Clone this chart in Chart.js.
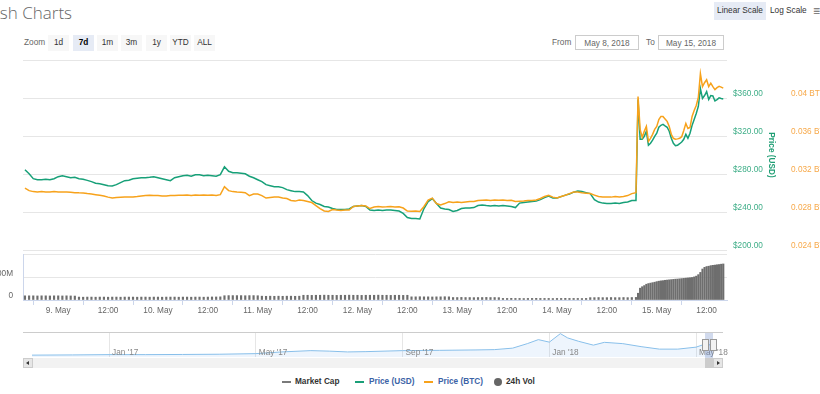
<!DOCTYPE html>
<html><head><meta charset="utf-8">
<script src="https://cdn.jsdelivr.net/npm/chart.js@4.4.1/dist/chart.umd.min.js"></script>
<style>
html,body{margin:0;padding:0;width:820px;height:394px;overflow:hidden;background:#fff;font-family:"Liberation Sans",Arial,sans-serif;}
canvas{position:absolute;left:0;}
.a{position:absolute;white-space:nowrap;}
.btn{position:absolute;top:35px;height:16px;width:21px;background:#f7f7f7;color:#333;font-size:8.25px;line-height:16px;text-align:center;}
.inp{position:absolute;top:35px;height:15px;border:1px solid #ccc;color:#666;font-size:8.25px;line-height:15px;text-align:center;box-sizing:border-box;}
.lg{position:absolute;top:377px;font-size:8.25px;font-weight:bold;line-height:10px;white-space:nowrap;}
</style></head>
<body>
<div class="a" style="right:748px;top:1px;font-family:'Open Sans',sans-serif;font-weight:300;font-size:17px;color:#666;">Zcash Charts</div>
<div class="a" style="left:714px;top:2px;width:52px;height:18px;background:#e6ebf5;color:#333;font-size:8.25px;line-height:18px;text-align:center;">Linear Scale</div>
<div class="a" style="left:770px;top:2px;height:18px;color:#333;font-size:8.25px;line-height:18px;">Log Scale</div>
<div class="a" style="left:813px;top:2px;height:18px;color:#666;font-size:12px;line-height:18px;">≡</div>
<div class="a" style="left:24px;top:35px;height:16px;color:#666;font-size:8.25px;line-height:16px;">Zoom</div>
<div class="btn" style="left:48px">1d</div>
<div class="btn" style="left:73px;background:#e6ebf5;color:#000;font-weight:bold">7d</div>
<div class="btn" style="left:97px">1m</div>
<div class="btn" style="left:121px">3m</div>
<div class="btn" style="left:146px">1y</div>
<div class="btn" style="left:170px">YTD</div>
<div class="btn" style="left:194px">ALL</div>
<div class="a" style="left:552px;top:35px;height:16px;color:#666;font-size:8.25px;line-height:16px;">From</div>
<div class="inp" style="left:575px;width:64px;">May 8, 2018</div>
<div class="a" style="left:646px;top:35px;height:16px;color:#666;font-size:8.25px;line-height:16px;">To</div>
<div class="inp" style="left:658px;width:66px;">May 15, 2018</div>

<canvas id="main" width="860" height="230" style="top:40px"></canvas>
<canvas id="vol" width="860" height="80" style="top:240px"></canvas>
<canvas id="nav" width="860" height="50" style="top:320px"></canvas>

<div class="a" style="left:23px;top:332px;width:700px;height:1px;background:#ccc"></div>
<div id="mask" class="a" style="top:333px;height:25px;background:rgba(102,133,194,0.3)"></div>
<div id="h0" class="a" style="top:339px;width:5px;height:10px;background:#f2f2f2;border:1px solid #999"></div>
<div id="h1" class="a" style="top:339px;width:5px;height:10px;background:#f2f2f2;border:1px solid #999"></div>
<div class="a" style="left:23px;top:358px;width:700px;height:10px;background:#f2f2f2"></div>
<div class="a" style="left:23px;top:358px;width:10px;height:10px;background:#e6e6e6;border:1px solid #ccc;box-sizing:border-box"></div>
<div class="a" style="left:26px;top:360.5px;width:0;height:0;border-right:3px solid #333;border-top:2.5px solid transparent;border-bottom:2.5px solid transparent"></div>
<div class="a" style="left:713px;top:358px;width:10px;height:10px;background:#e6e6e6;border:1px solid #ccc;box-sizing:border-box"></div>
<div class="a" style="left:717px;top:360.5px;width:0;height:0;border-left:3px solid #333;border-top:2.5px solid transparent;border-bottom:2.5px solid transparent"></div>
<div id="thumb" class="a" style="top:358px;height:10px;background:#ccc"></div>

<div class="a" style="left:282px;top:381px;width:9px;height:2px;background:#7a7a7a"></div>
<div class="lg" style="left:295px;color:#333">Market Cap</div>
<div class="a" style="left:355px;top:381px;width:9px;height:2px;background:#1a9f78"></div>
<div class="lg" style="left:369px;color:#3b63a6">Price (USD)</div>
<div class="a" style="left:424px;top:381px;width:9px;height:2px;background:#f7a21b"></div>
<div class="lg" style="left:438px;color:#3b63a6">Price (BTC)</div>
<div class="a" style="left:494px;top:378px;width:8px;height:8px;border-radius:50%;background:#666"></div>
<div class="lg" style="left:506px;color:#333">24h Vol</div>

<script>
// hours since 9 May 2018 00:00
const hours = [-8,-7,-6,-5,-4,-3,-2,-1,
0,1,2,3,4,5,6,7,8,9,10,11,12,13,14,15,16,17,18,19,20,21,22,23,24,25,26,27,28,29,30,31,32,33,34,35,36,37,38,39,
40,41,42,43,44,45,46,47,48,49,50,51,52,53,54,55,56,57,58,59,60,61,62,63,64,65,66,67,68,69,70,71,72,73,74,75,76,77,78,79,
80,81,82,83,84,85,86,87,88,89,90,91,92,93,94,95,96,97,98,99,100,101,102,103,104,105,106,107,108,109,110,111,112,113,114,115,116,117,118,119,
120,121,122,123,124,125,126,127,128,129,130,131,132,133,134,135,136,137,138,139,
139.5,140,140.5,141,141.5,142,142.5,143,143.5,144,144.5,145,145.5,146,146.5,147,147.5,148,148.5,149,
149.5,150,150.5,151,151.5,152,152.5,153,153.5,154,154.5,155,155.5,156,156.5,157,157.5,158,158.5,159,159.5,160];

const priceUSD = [284.5,280.3,275.1,274.0,274.0,274.5,274.0,275.0,
277.2,278.2,277.2,276.1,276.6,275.0,274.5,273.3,272.0,270.4,
269.8,268.8,267.7,267.4,268.8,270.9,273.0,273.5,275.0,275.6,
276.1,276.1,276.6,277.2,276.1,275.0,274.0,273.0,276.1,277.2,
278.2,278.7,277.7,279.3,279.3,278.2,278.7,278.2,277.7,279.3,
287.6,282.9,281.3,281.3,280.8,280.3,277.7,276.1,274.0,272.0,
268.8,267.7,266.7,266.7,265.7,263.6,262.5,261.5,261.5,261.2,
257.3,252.1,249.4,247.9,245.8,245.3,243.7,242.7,242.7,242.7,
243.2,245.8,246.3,246.8,245.8,242.1,241.6,242.1,241.6,242.1,
242.1,241.6,241.1,238.5,234.3,233.2,233.2,232.7,243.7,251.0,
254.2,248.9,244.2,243.2,242.7,240.6,241.6,243.7,244.2,244.2,
244.7,246.8,247.4,246.8,246.3,246.8,246.3,246.8,246.3,245.8,
244.7,249.4,250.0,250.5,251.0,251.5,253.1,255.2,256.8,254.7,
254.7,256.2,257.8,258.9,260.9,262.0,261.5,260.4,259.4,253.1,
250.5,249.4,248.9,248.9,249.4,248.9,250.0,250.5,252.1,252.1,
358.4,316.6,316.6,319.7,325.0,310.3,312.4,315.6,319.7,322.9,
329.2,331.3,332.3,330.7,329.2,325.0,317.7,312.4,309.8,310.3,
311.9,313.7,316.6,321.8,317.6,322.9,331.2,337.5,343.8,351.1,
369.9,359.5,362.6,366.8,358.4,362.6,362.1,356.9,358.4,360.2,
359.5,359.0];

const priceBTC = [0.03051,0.03025,0.03015,0.03012,0.03015,0.0301,0.03012,0.03015,
0.0301,0.03012,0.0301,0.03007,0.03004,0.03002,0.03001,0.02994,0.02989,0.02983,
0.02976,0.02968,0.02957,0.02949,0.02952,0.02955,0.02957,0.02959,0.02959,0.02963,
0.02968,0.02973,0.02976,0.02973,0.02973,0.0297,0.02968,0.02973,0.02975,0.02976,
0.02976,0.02978,0.02975,0.02978,0.02976,0.02978,0.02976,0.02978,0.02975,0.02983,
0.03067,0.03025,0.03015,0.0301,0.03007,0.03004,0.02973,0.02989,0.02989,0.02973,
0.02947,0.02952,0.02957,0.02957,0.02947,0.02942,0.02921,0.02915,0.02926,0.02921,
0.0291,0.029,0.02868,0.02837,0.02811,0.02806,0.02827,0.02821,0.02816,0.02821,
0.02821,0.02858,0.02863,0.02868,0.02863,0.02837,0.02853,0.02858,0.02853,0.02855,
0.02858,0.02853,0.02855,0.02842,0.02811,0.02809,0.02811,0.02806,0.02858,0.02926,
0.02947,0.02889,0.02874,0.02889,0.02907,0.029,0.02905,0.029,0.02905,0.0291,
0.0291,0.02921,0.02924,0.02926,0.02921,0.02926,0.02924,0.02926,0.02921,0.02924,
0.0291,0.02913,0.02915,0.02921,0.02921,0.02926,0.02942,0.02963,0.02976,0.02957,
0.02949,0.02963,0.02976,0.02994,0.0301,0.0301,0.03004,0.02999,0.02994,0.02978,
0.02963,0.02959,0.02959,0.02957,0.02963,0.02959,0.02963,0.02973,0.02994,0.03004,
0.04015,0.0367,0.03586,0.03649,0.03701,0.03544,0.03576,0.03618,0.0367,0.03701,
0.03774,0.03806,0.03806,0.0378,0.03754,0.03701,0.03618,0.03576,0.03566,0.0357,
0.03576,0.03593,0.03659,0.03733,0.0368,0.03691,0.03806,0.03869,0.03921,0.04005,
0.04256,0.0412,0.04161,0.04193,0.0412,0.04156,0.0412,0.04088,0.04109,0.04123,
0.04114,0.04104];

// 24h volume, millions USD
const volume24h = [37,37,37,36,37,37,36,37,37,36,37,36,35,
26,25,26,26,25,26,26,25,26,26,25,26,26,26,25,26,26,25,26,26,25,26,26,26,25,26,26,25,26,26,25,26,27,27,28,
38,39,39,39,39,38,39,39,38,
34,33,34,33,34,33,34,34,33,34,
42,42,41,42,42,43,42,42,41,42,42,43,42,42,41,42,42,42,43,42,42,41,42,42,41,42,
28,28,29,28,28,27,28,28,29,28,
22,22,23,22,22,21,22,22,23,22,22,21,
14,14,15,14,14,13,14,14,15,14,14,14,13,14,14,15,14,14,14,13,14,
21,21,22,21,21,22,21,21,22,21,22,23,
60,105,118,128,140,146,150,154,158,163,167,170,172,175,177,179,181,183,185,186,
188,190,192,194,196,198,200,205,212,225,245,275,290,297,300,305,308,310,313,315,318,320];

const xTickHours = [0,12,24,36,48,60,72,84,96,108,120,132,144,156];
const usdTicks = [200,240,280,320,360,400];
const btcTicks = [0.024,0.028,0.032,0.036,0.04,0.044];
const volTicks = [0,200,400];

// navigator: months since Jan 2017, market cap (M USD)
const navMonths = [-2.1,-1,0,1,2,3,4,4.7,5.5,6,6.5,7,8,9,10,10.5,11,11.4,11.7,12,12.3,12.5,12.8,13.2,13.5,14,14.5,15,15.5,16,16.2,16.47];
const navCap = [55,77,110,110,130,155,220,407,550,495,407,440,550,583,627,660,825,1320,1760,1485,2420,1947,1573,1155,1463,1320,990,715,715,935,1210,1177];
const navTickMonths = [0,4,8,12,16];
const navTickLabels = ["Jan '17","May '17","Sep '17","Jan '18","May '18"];
const navRange = [16.25,16.47];

Chart.defaults.font.family = "'Liberation Sans', Arial, sans-serif";
Chart.defaults.font.size = 8.25;
Chart.defaults.color = '#666';

const X_MIN = -8.47, X_MAX = 160.9;
const common = {responsive:false, animation:false, events:[], plugins:{legend:{display:false}, tooltip:{enabled:false}}};

new Chart(document.getElementById('main'), {
  type:'line',
  data:{datasets:[
    {data: hours.map((h,i)=>({x:h,y:priceBTC[i]})), yAxisID:'yb', borderColor:'#f7a21b', borderWidth:1.5, pointRadius:0, tension:0},
    {data: hours.map((h,i)=>({x:h,y:priceUSD[i]})), yAxisID:'yu', borderColor:'#17a078', borderWidth:1.5, pointRadius:0, tension:0}
  ]},
  options:{...common,
    layout:{padding:{left:23,top:20,bottom:18,right:0}},
    scales:{
      x:{type:'linear', min:X_MIN, max:X_MAX, display:false},
      yu:{position:'right', weight:0, min:200, max:400,
        afterFit:s=>{s.width=49;},
        afterBuildTicks:s=>{s.ticks=usdTicks.map(v=>({value:v}));},
        ticks:{padding:6, labelOffset:-4, color:'#3fae88', callback:v=> v>=400?'':'$'+v.toFixed(2)},
        grid:{color:'#e6e6e6', drawTicks:false, lineWidth:1}, border:{display:false},
        title:{display:true, text:'Price (USD)', color:'#1f9e74', font:{size:8.25, weight:'bold'}, padding:0}},
      yb:{position:'right', weight:1, min:0.024, max:0.044,
        afterFit:s=>{s.width=84;},
        afterBuildTicks:s=>{s.ticks=btcTicks.map(v=>({value:v}));},
        ticks:{padding:15, labelOffset:-4, color:'#f7a94a', callback:v=> v>=0.0439?'':(+v.toFixed(4))+' BTC'},
        grid:{display:false, drawTicks:false}, border:{display:false}}
    }
  }
});

new Chart(document.getElementById('vol'), {
  type:'bar',
  data:{datasets:[{data: hours.map((h,i)=>({x:h,y:volume24h[i]})), backgroundColor:'#6e6e6e', barThickness:1.5, borderWidth:0}]},
  options:{...common,
    layout:{padding:{left:0,top:12,bottom:0,right:133}},
    scales:{
      x:{type:'linear', min:X_MIN, max:X_MAX, offset:false,
        afterFit:s=>{s.height=20;},
        afterBuildTicks:s=>{s.ticks=xTickHours.map(v=>({value:v}));},
        ticks:{padding:1, color:'#666', maxRotation:0, autoSkip:false,
          callback:v=> (v%24===0) ? (9+v/24)+'. May' : '12:00'},
        grid:{drawOnChartArea:false, drawTicks:true, tickLength:5, color:'#ccd6eb'},
        border:{display:true, color:'#ccd6eb'}},
      y:{position:'left', min:0, max:400,
        afterFit:s=>{s.width=23;},
        afterBuildTicks:s=>{s.ticks=volTicks.map(v=>({value:v}));},
        ticks:{padding:10, labelOffset:-4, color:'#666', callback:v=> v===0?'0':(v===200?'200M':'')},
        grid:{color:'#e6e6e6', drawTicks:false}, border:{display:true, color:'#ccd6eb'}}
    }
  }
});

const navLabelPlugin = {
  id:'navLabels',
  afterDraw(chart){
    const sx = chart.scales.x, ctx = chart.ctx;
    ctx.save();
    ctx.font = "8.25px 'Liberation Sans', Arial, sans-serif";
    ctx.fillStyle = '#888';
    ctx.textAlign = 'left'; ctx.textBaseline = 'middle';
    navTickMonths.forEach((m,i)=>{ ctx.fillText(navTickLabels[i], sx.getPixelForValue(m)+3, 33); });
    ctx.restore();
  }
};

const nav = new Chart(document.getElementById('nav'), {
  type:'line',
  data:{datasets:[{data: navMonths.map((m,i)=>({x:m,y:navCap[i]})), borderColor:'#88bfea', borderWidth:1, backgroundColor:'rgba(124,181,236,0.13)', fill:'start', pointRadius:0, tension:0}]},
  options:{...common,
    layout:{padding:{left:32,top:12,bottom:13,right:147}},
    scales:{
      x:{type:'linear', min:-2.1, max:16.46,
        afterFit:s=>{s.height=0;},
        afterBuildTicks:s=>{s.ticks=navTickMonths.map(v=>({value:v}));},
        ticks:{display:false}, grid:{color:'#e6e6e6', drawTicks:false}, border:{display:false}},
      y:{display:false, min:-150, max:2600}
    }
  },
  plugins:[navLabelPlugin]
});

const nx = nav.scales.x;
const m0 = nx.getPixelForValue(navRange[0]), m1 = nx.getPixelForValue(navRange[1]);
const mask = document.getElementById('mask');
mask.style.left = m0+'px'; mask.style.width = (m1-m0)+'px';
document.getElementById('thumb').style.left = m0+'px';
document.getElementById('thumb').style.width = (m1-m0)+'px';
document.getElementById('h0').style.left = (m0-3.5)+'px';
document.getElementById('h1').style.left = (m1-3.5)+'px';
</script>
</body></html>
